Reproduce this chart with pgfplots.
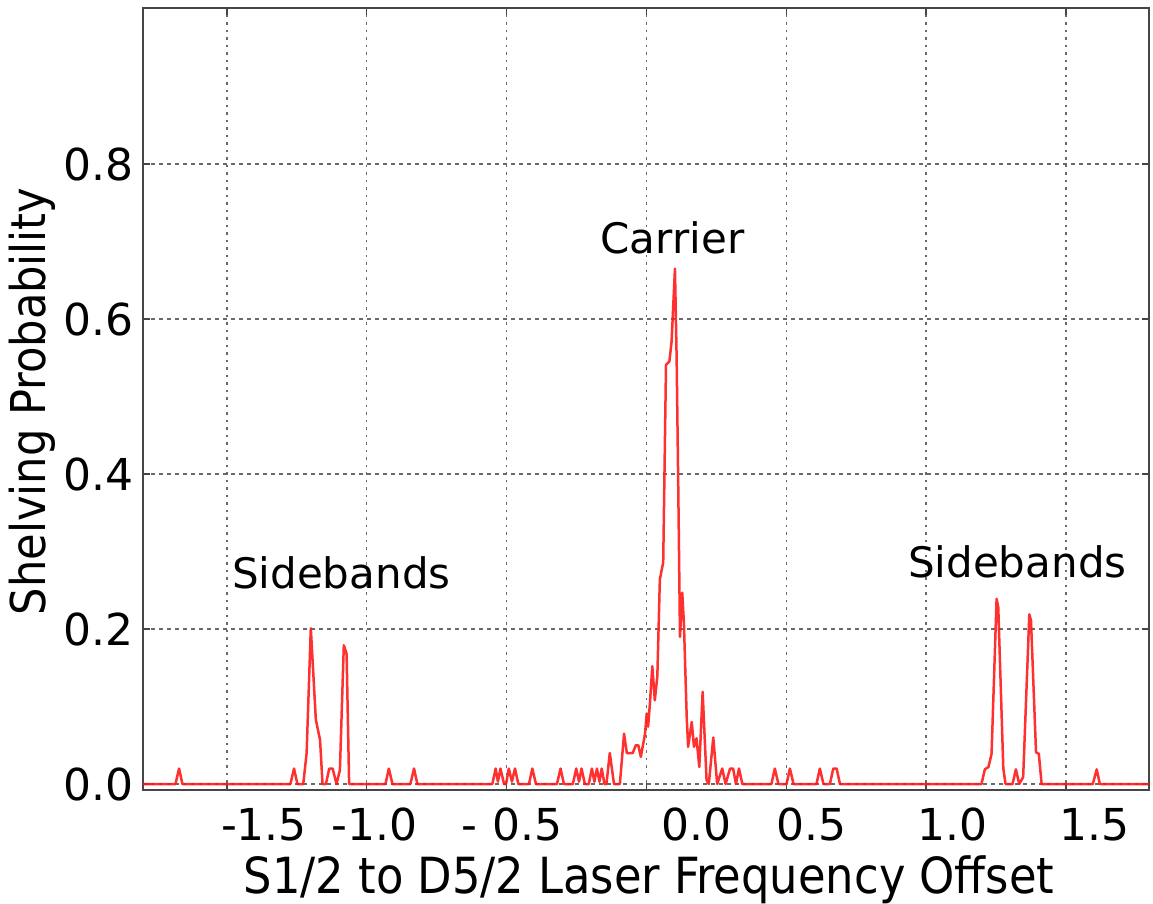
\documentclass[border=0pt]{standalone}
\usepackage{fontspec}
\setmainfont{DejaVu Sans}
\newfontfamily\condfont{DejaVu Sans Condensed}
\usepackage{pgfplots}
\pgfplotsset{compat=1.18}
\definecolor{curve}{RGB}{255,25,25}
\definecolor{gridc}{RGB}{105,105,105}
\definecolor{spine}{RGB}{70,70,70}
\begin{document}
\begin{tikzpicture}
\useasboundingbox (-143bp,-114bp) rectangle (1010bp,790bp);
\begin{axis}[
  at={(0,0)}, anchor=south west,
  scale only axis, width=1006bp, height=782bp,
  xmin=-1.800, xmax=1.797, ymin=-0.0077, ymax=1.0013,
  clip=false,
  axis line style={spine, line width=1.6bp},
  xtick={-1.5,-1,-0.5,0,0.5,1,1.5},
  xticklabels={,,,,,,},
  ytick={0,0.2,0.4,0.6,0.8},
  yticklabel style={/pgf/number format/fixed, /pgf/number format/fixed zerofill, /pgf/number format/precision=1, /pgf/number format/assume math mode=true},
  yticklabel style={anchor=east, inner sep=0pt, xshift=-9bp},
  tick label style={font=\fontsize{44bp}{50bp}\selectfont},
  tick align=inside, major tick length=7bp,
  tick style={spine, line width=1.5bp},
  xmajorgrids, ymajorgrids,
  x grid style={gridc, line width=1.4bp, dash pattern=on 2.5bp off 5bp},
  y grid style={gridc, line width=1.4bp, dash pattern=on 4bp off 4bp},
]
\addplot[curve, line width=2.5bp, opacity=0.9, line join=round] coordinates {
(-1.800,0) (-1.684,0) (-1.671,0.02) (-1.659,0)
(-1.273,0) (-1.260,0.02) (-1.248,0)
(-1.227,0) (-1.215,0.04) (-1.200,0.201) (-1.182,0.083) (-1.167,0.057) (-1.158,0)
(-1.146,0) (-1.134,0.02) (-1.122,0.02) (-1.108,0) (-1.096,0.018) (-1.082,0.179) (-1.072,0.168) (-1.063,0)
(-0.933,0) (-0.921,0.02) (-0.908,0)
(-0.844,0) (-0.831,0.02) (-0.819,0)
(-0.551,0) (-0.539,0.02) (-0.531,0.003) (-0.522,0.02) (-0.509,0)
(-0.502,0) (-0.492,0.02) (-0.481,0.003) (-0.470,0.02) (-0.458,0)
(-0.420,0) (-0.408,0.02) (-0.395,0)
(-0.320,0) (-0.307,0.02) (-0.295,0)
(-0.263,0) (-0.251,0.02) (-0.241,0.003) (-0.232,0.02) (-0.220,0)
(-0.206,0) (-0.195,0.02) (-0.186,0.003) (-0.177,0.02) (-0.168,0.003) (-0.160,0.02) (-0.150,0)
(-0.143,0) (-0.131,0.04) (-0.116,0)
(-0.095,0) (-0.080,0.065) (-0.070,0.04) (-0.049,0.04) (-0.038,0.05) (-0.029,0.05) (-0.020,0.035)
(-0.005,0.065) (0.001,0.091) (0.006,0.074) (0.0125,0.104) (0.021,0.152) (0.030,0.108) (0.039,0.139)
(0.048,0.264) (0.060,0.286) (0.070,0.541) (0.082,0.545) (0.090,0.571) (0.102,0.665)
(0.108,0.55) (0.114,0.377) (0.120,0.19) (0.128,0.247) (0.134,0.208) (0.144,0.087)
(0.149,0.048) (0.162,0.080) (0.170,0.048) (0.179,0.059) (0.189,0.022) (0.201,0.119)
(0.215,0.005) (0.223,0) (0.239,0.06) (0.253,0) (0.271,0.02) (0.283,0)
(0.299,0.02) (0.310,0.02) (0.320,0) (0.331,0.02) (0.343,0)
(0.447,0) (0.459,0.02) (0.472,0)
(0.501,0) (0.513,0.02) (0.526,0)
(0.608,0) (0.620,0.02) (0.633,0)
(0.656,0) (0.668,0.02) (0.680,0.02) (0.692,0)
(1.198,0) (1.210,0.019) (1.223,0.022) (1.234,0.039) (1.252,0.239) (1.258,0.228) (1.276,0.02) (1.284,0)
(1.309,0) (1.321,0.019) (1.333,0) (1.347,0.009) (1.369,0.219) (1.375,0.211) (1.393,0.041) (1.403,0.039) (1.413,0)
(1.596,0) (1.610,0.019) (1.621,0) (1.797,0)
};
% x tick labels (offset as in the reference)
\begin{scope}[every node/.style={font=\fontsize{44bp}{50bp}\selectfont, anchor=base, inner sep=0pt}]
\node at (axis cs:-1.3675,-0.0077) [yshift=-50bp] {-1.5};
\node at (axis cs:-0.971,-0.0077) [yshift=-50bp] {-1.0};
\node at (axis cs:-0.481,-0.0077) [yshift=-50bp] {-\,\,0.5};
\node at (axis cs:0.1806,-0.0077) [yshift=-50bp] {0.0};
\node at (axis cs:0.5917,-0.0077) [yshift=-50bp] {0.5};
\node at (axis cs:1.0958,-0.0077) [yshift=-50bp] {1.0};
\node at (axis cs:1.6035,-0.0077) [yshift=-50bp] {1.5};
\end{scope}
% annotations
\node[font=\fontsize{42bp}{48bp}\selectfont, anchor=base west, inner sep=0pt] at (axis cs:-1.482,0.2529) {Sidebands};
\node[font=\fontsize{42bp}{48bp}\selectfont, anchor=base west, inner sep=0pt] at (axis cs:0.935,0.267) {Sidebands};
\node[font=\fontsize{42bp}{48bp}\selectfont, anchor=base, inner sep=0pt] at (axis cs:0.093,0.685) {Carrier};
% axis labels
\node[font=\condfont\fontsize{49.8bp}{56bp}\selectfont, anchor=base, inner sep=0pt] at (axis description cs:0.503,0) [yshift=-103bp] {S1/2 to D5/2 Laser Frequency Offset};
\node[font=\condfont\fontsize{48bp}{54bp}\selectfont, rotate=90, anchor=center] at (axis description cs:-0.110,0.497) {Shelving Probability};
\end{axis}
\end{tikzpicture}
\end{document}
